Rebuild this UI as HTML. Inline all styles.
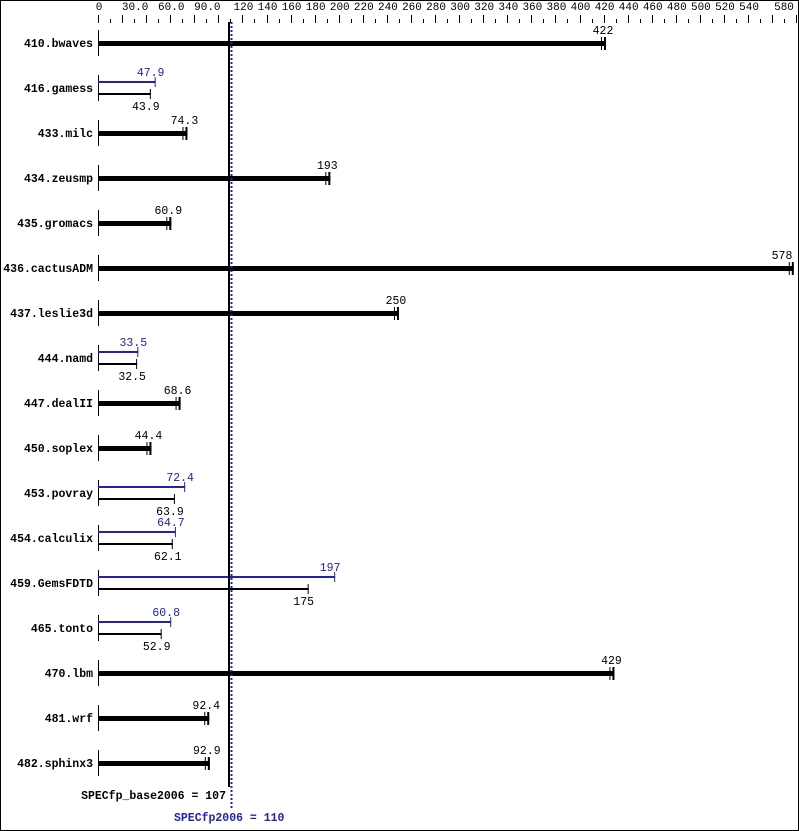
<!DOCTYPE html>
<html><head><style>body{margin:0;background:#fff}svg{display:block}</style></head><body>
<svg width="799" height="831" xmlns="http://www.w3.org/2000/svg" font-family="Liberation Mono, DejaVu Sans Mono, monospace" font-size="11.5">
<rect x="0.5" y="0.5" width="798" height="830" fill="#fff" stroke="#000"/>
</svg>
<script>
const ns="http://www.w3.org/2000/svg";
const px=v=>98+v*1.2038;
const svg=document.querySelector('svg');
function el(t,a,txt){const e=document.createElementNS(ns,t);for(const k in a)e.setAttribute(k,a[k]);if(txt!==undefined)e.textContent=txt;svg.appendChild(e);return e;}
for(let v=0;v<=580;v+=10){const x=Math.round(px(v))+0.5;const major=v%20==0;el('line',{x1:x,x2:x,y1:major?15:19,y2:23,stroke:'#000'});}
const labs=[[0,'0'],[30,'30.0'],[60,'60.0'],[90,'90.0']];
for(let v=120;v<=540;v+=20)labs.push([v,''+v]);
labs.forEach(([v,t])=>el('text',{x:px(v)+1,y:10,'text-anchor':'middle','font-size':'11'},t));
el('text',{x:784,y:10,'text-anchor':'middle','font-size':'11'},'580');
const rows=[
['410.bwaves',422],['416.gamess',47.9,43.9],['433.milc',74.3],['434.zeusmp',193],['435.gromacs',60.9],
['436.cactusADM',578],['437.leslie3d',250],['444.namd',33.5,32.5],['447.dealII',68.6],['450.soplex',44.4],
['453.povray',72.4,63.9],['454.calculix',64.7,62.1],['459.GemsFDTD',197,175],['465.tonto',60.8,52.9],
['470.lbm',429],['481.wrf',92.4],['482.sphinx3',92.9]];
const blue='#2222aa';
rows.forEach((r,i)=>{
 const cy=43+45*i;
 el('text',{x:93,y:cy+4,'text-anchor':'end','font-weight':'bold'},r[0]);
 el('line',{x1:98.5,x2:98.5,y1:cy-13,y2:cy+13,stroke:'#000'});
 if(r.length==2){
  const x=px(r[1]);
  el('rect',{x:98,y:cy-2,width:x-98,height:5,fill:'#000'});
  el('rect',{x:x-2,y:cy-6,width:2,height:13,fill:'#000'});
  el('rect',{x:x-5,y:cy-6,width:1,height:13,fill:'#000'});
  el('text',{x:Math.min(x-3,782),y:cy-9,'text-anchor':'middle'},''+r[1]);
 } else {
  const xb=px(r[1]),xk=px(r[2]);
  el('rect',{x:98,y:cy-7,width:xb-98,height:2,fill:blue});
  el('rect',{x:xb-1,y:cy-11,width:1,height:10,fill:blue});
  el('text',{x:xb-5,y:cy-12,'text-anchor':'middle',fill:blue},''+r[1]);
  el('rect',{x:98,y:cy+5,width:xk-98,height:2,fill:'#000'});
  el('rect',{x:xk-1,y:cy+1,width:1,height:10,fill:'#000'});
  el('text',{x:xk-5,y:cy+22,'text-anchor':'middle'},''+r[2]);
 }
});
el('rect',{x:228,y:22,width:2,height:765,fill:'#000'});
el('line',{x1:231.5,x2:231.5,y1:22,y2:808,stroke:blue,'stroke-width':2,'stroke-dasharray':'2,2'});
el('text',{x:226,y:799,'text-anchor':'end','font-weight':'bold'},'SPECfp_base2006 = 107');
el('text',{x:174,y:821,'font-weight':'bold',fill:blue},'SPECfp2006 = 110');
</script>
</body></html>
